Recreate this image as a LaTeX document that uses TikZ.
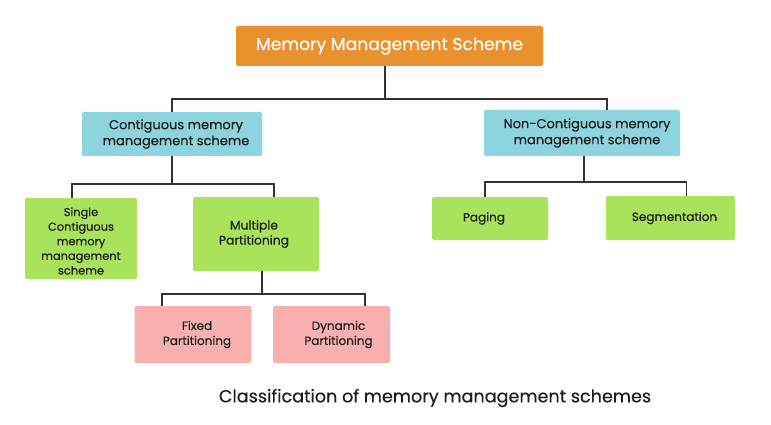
\documentclass[tikz,border=0pt]{standalone}
\usepackage{fontspec}
\setmainfont{Poppins}[FakeBold=0.4]
\definecolor{orangebox}{HTML}{E9912E}
\definecolor{cyanbox}{HTML}{8DD4DE}
\definecolor{greenbox}{HTML}{A9E25B}
\definecolor{pinkbox}{HTML}{F8AFAF}
\definecolor{txt}{HTML}{1E1E1E}
\definecolor{wire}{HTML}{333333}
\begin{document}
\begin{tikzpicture}[x=1pt,y=-1pt,
  box/.style={rounded corners=2pt,inner sep=0pt},
  lbl/.style={inner sep=0pt,align=center,text=txt},
  wire/.style={draw=wire,line width=1.4pt}]
\useasboundingbox (0,0) rectangle (771,425);
% boxes
\node[box,fill=orangebox,minimum width=307pt,minimum height=40pt] (top) at (389.5,46) {};
\node[box,fill=cyanbox,minimum width=180pt,minimum height=44pt] (cont) at (172,134) {};
\node[box,fill=cyanbox,minimum width=196pt,minimum height=46pt] (ncont) at (582,133) {};
\node[box,fill=greenbox,minimum width=112pt,minimum height=81pt] (single) at (81,238.5) {};
\node[box,fill=greenbox,minimum width=126pt,minimum height=74pt] (multi) at (256,234) {};
\node[box,fill=greenbox,minimum width=116pt,minimum height=43pt] (paging) at (490,218.5) {};
\node[box,fill=greenbox,minimum width=129pt,minimum height=44pt] (seg) at (670.5,218) {};
\node[box,fill=pinkbox,minimum width=117pt,minimum height=57pt] (fixed) at (193,334.5) {};
\node[box,fill=pinkbox,minimum width=117pt,minimum height=57pt] (dyn) at (331.5,334.5) {};
% texts
\node[lbl,text=white,font=\fontsize{17.2}{20}\selectfont] (topT) at (top) {Memory Management Scheme};
\node[lbl,font=\fontsize{13}{16}\selectfont] (contT) at ([xshift=4pt]cont.center) {Contiguous memory\\management scheme};
\node[lbl,font=\fontsize{13}{16}\selectfont] (ncontT) at ([xshift=5pt]ncont.center) {Non-Contiguous memory\\management scheme};
\node[lbl,font=\fontsize{11.4}{14.6}\selectfont] (singleT) at ([yshift=-2.5pt]single.center) {Single\\Contiguous\\memory\\management\\scheme};
\node[lbl,font=\fontsize{12.3}{15}\selectfont] (multiT) at ([xshift=-2pt]multi.center) {Multiple\\Partitioning};
\node[lbl,font=\fontsize{12}{15}\selectfont] (pagingT) at ([xshift=-6pt]paging.center) {Paging};
\node[lbl,font=\fontsize{12}{15}\selectfont] (segT) at ([xshift=4pt]seg.center) {Segmentation};
\node[lbl,font=\fontsize{12}{15}\selectfont] (fixedT) at ([xshift=4pt]fixed.center) {Fixed\\Partitioning};
\node[lbl,font=\fontsize{12}{15}\selectfont] (dynT) at ([xshift=7pt]dyn.center) {Dynamic\\Partitioning};
\node[lbl,font=\fontsize{17.6}{20}\selectfont] (cap) at (435,398) {Classification of memory management schemes};
% connectors
\coordinate (j1) at (385,99);
\coordinate (j2) at (172,184);
\coordinate (j3) at (262,294);
\coordinate (j4) at (584,182);
\draw[wire] (top.south -| j1) -- (j1);
\draw[wire] (cont.north) |- (j1) -| ([xshift=25pt]ncont.north);
\draw[wire] (cont.south) -- (j2);
\draw[wire] ([xshift=-9pt]single.north) |- (j2) -| ([xshift=18pt]multi.north);
\draw[wire] (multi.south -| j3) -- (j3);
\draw[wire] ([xshift=-31pt]fixed.north) |- (j3) -| ([xshift=33.5pt]dyn.north);
\draw[wire] (ncont.south -| j4) -- (j4);
\draw[wire] ([xshift=-5pt]paging.north) |- (j4) -| ([xshift=16pt]seg.north);
\end{tikzpicture}
\end{document}
